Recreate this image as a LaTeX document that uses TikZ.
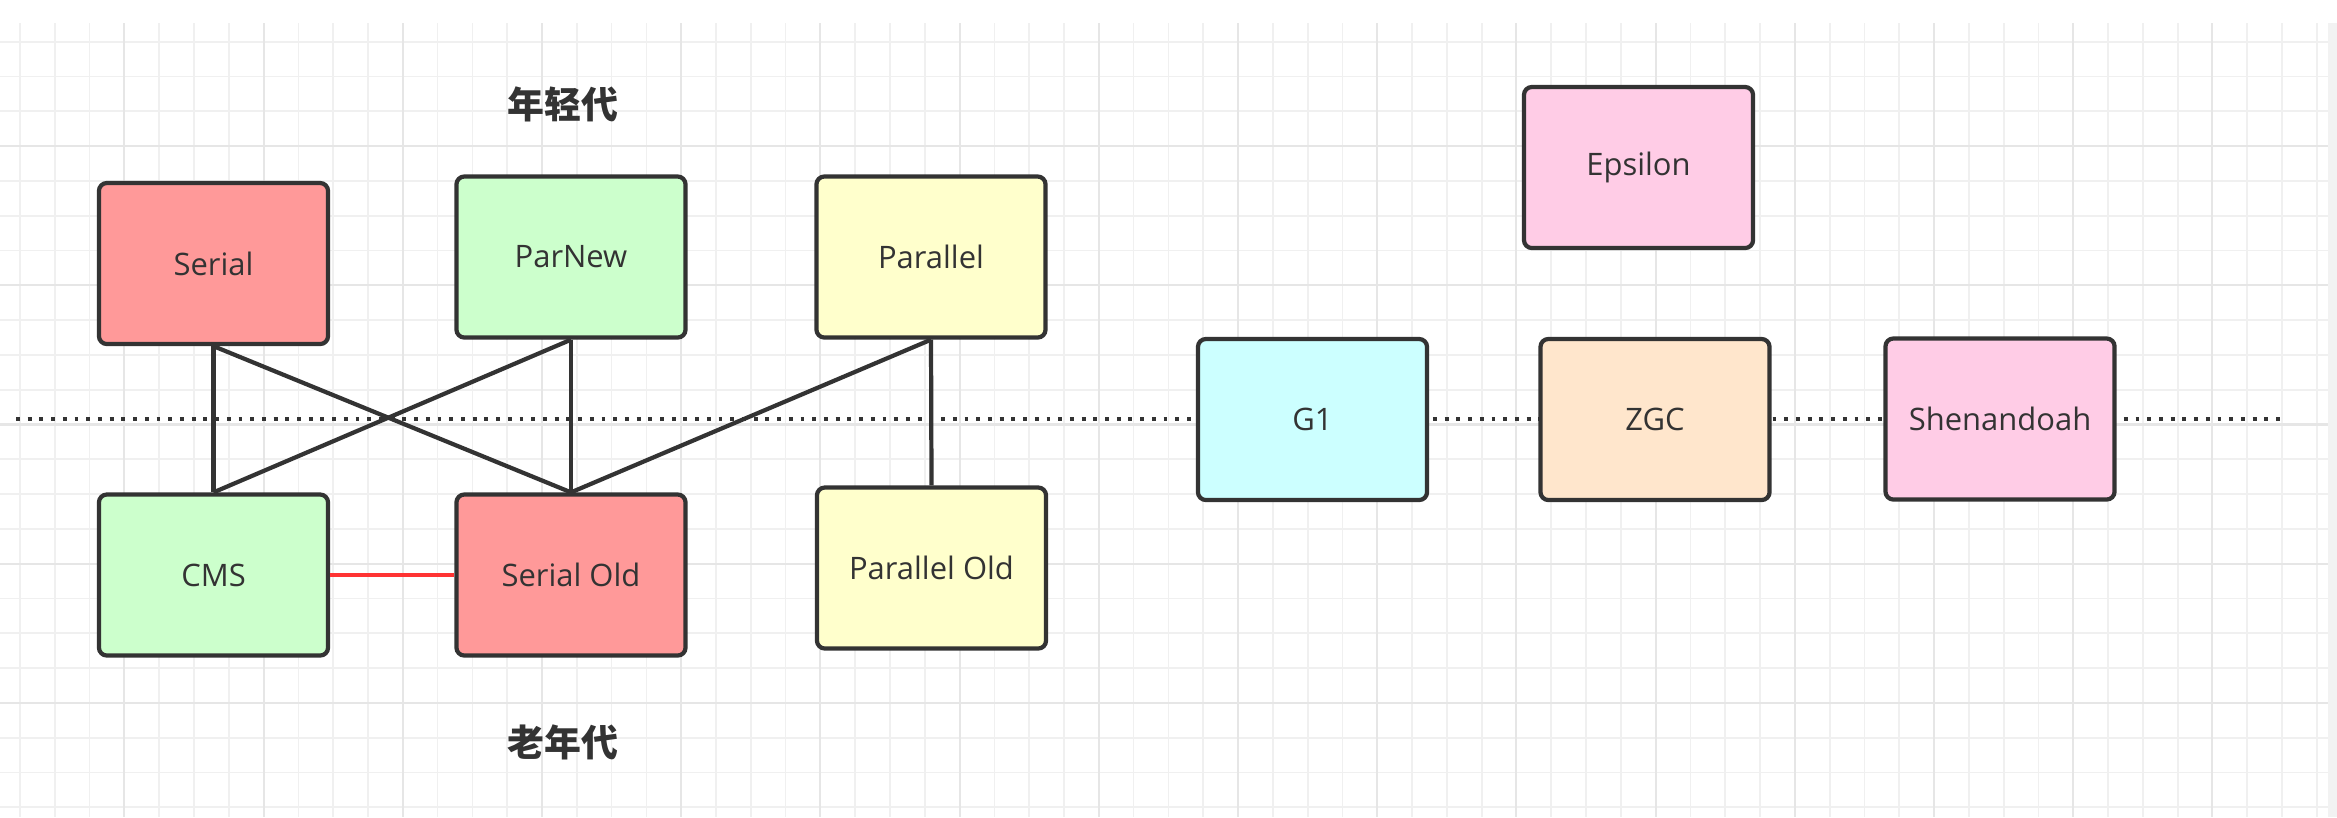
\documentclass[tikz,border=0pt]{standalone}
\usepackage{fontspec}
\setmainfont{Open Sans}
\newfontfamily\cjk{Noto Sans CJK SC}
\definecolor{txt}{HTML}{333333}
\definecolor{edge}{HTML}{333333}
\definecolor{gminor}{HTML}{F0F0F0}
\definecolor{gmajor}{HTML}{E6E6E6}
\definecolor{strip}{HTML}{F2F2F2}
\definecolor{cred}{HTML}{FF9999}
\definecolor{cgreen}{HTML}{CCFFCC}
\definecolor{cyellow}{HTML}{FFFFCC}
\definecolor{cpink}{HTML}{FFCCE6}
\definecolor{ccyan}{HTML}{CCFFFF}
\definecolor{corange}{HTML}{FFE6CC}
\definecolor{redline}{HTML}{FF3333}
\tikzset{
  gcbox/.style={draw=edge, line width=1.2pt, rounded corners=0.08cm,
    minimum width=2.29cm, minimum height=1.61cm, inner sep=0pt,
    text=txt, font=\fontsize{8.8}{10}\selectfont},
  genlabel/.style={text=txt, font=\cjk\bfseries\fontsize{10.5}{12}\selectfont, inner sep=0pt},
  conn/.style={draw=edge, line width=1.2pt},
  redconn/.style={draw=redline, line width=1.2pt},
  dotline/.style={draw=edge, line width=1.1pt, dash pattern=on 1.1pt off 2.23pt},
  gridminor/.style={draw=gminor, line width=0.5pt},
  gridmajor/.style={draw=gmajor, line width=0.6pt}
}
\begin{document}
\begin{tikzpicture}[x=0.01cm, y=-0.01cm]
\useasboundingbox (0,0) rectangle (2337,817);
\fill[white] (0,0) rectangle (2337,817);
\fill[strip] (2328,23) rectangle (2337,817);
% grid
\foreach \k in {0,...,66} \draw[gridminor] ({20+34.8*\k},23) -- ({20+34.8*\k},817);
\foreach \k in {1,...,23} \draw[gridminor] (0,{6.9+34.8*\k}) -- (2328,{6.9+34.8*\k});
\foreach \k in {3,7,...,63} \draw[gridmajor] ({20+34.8*\k},23) -- ({20+34.8*\k},817);
\foreach \k in {4,8,...,20} \draw[gridmajor] (0,{6.9+34.8*\k}) -- (2328,{6.9+34.8*\k});
% dotted divider
\coordinate (dl) at (16,419);
\coordinate (dr) at (2281,419);
\draw[dotline] (dl) -- (dr);
% labels
\node[genlabel] (young) at (563,104) {年轻代};
\node[genlabel] (old) at (563,742) {老年代};
% boxes
\node[gcbox, fill=cred] (serial) at (213.5,263.5) {Serial};
\node[gcbox, fill=cgreen] (parnew) at (571,257) {ParNew};
\node[gcbox, fill=cyellow] (parallel) at (931,257) {Parallel};
\node[gcbox, fill=cgreen] (cms) at (213.5,575) {CMS};
\node[gcbox, fill=cred] (serialold) at (571,575) {Serial Old};
\node[gcbox, fill=cyellow] (parallelold) at (931.5,568) {Parallel Old};
\node[gcbox, fill=cpink] (epsilon) at (1638.5,167.5) {Epsilon};
\node[gcbox, fill=ccyan] (g1) at (1312.5,419.5) {G1};
\node[gcbox, fill=corange] (zgc) at (1655,419.5) {ZGC};
\node[gcbox, fill=cpink] (shen) at (2000,419) {Shenandoah};
% connectors
\draw[conn] (serial.south) -- (cms.north);
\draw[conn] (serial.south) -- (serialold.north);
\draw[conn] (parnew.south) -- (cms.north);
\draw[conn] (parnew.south) -- (serialold.north);
\draw[conn] (parallel.south) -- (serialold.north);
\draw[conn] (parallel.south) -- (parallelold.north);
\draw[redconn] (cms.east) -- (serialold.west);
\end{tikzpicture}
\end{document}
